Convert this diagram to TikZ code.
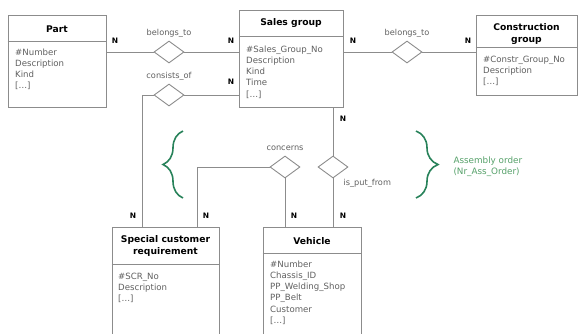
\documentclass[tikz,border=0pt]{standalone}
\usepackage{fontspec}
\setmainfont{DejaVu Sans}
\usetikzlibrary{shapes.geometric,decorations.pathreplacing}
\definecolor{linegray}{RGB}{140,140,140}
\definecolor{attrgray}{RGB}{95,95,95}
\definecolor{bracegreen}{RGB}{40,130,90}
\definecolor{notegreen}{RGB}{85,160,105}
\tikzset{
  entity/.style={draw=linegray, line width=0.9pt, rectangle, inner sep=0pt},
  title/.style={font=\fontsize{9.2}{11.5}\selectfont\bfseries, align=center},
  attrs/.style={font=\fontsize{8.6}{11.2}\selectfont, text=attrgray, align=left, anchor=north west, inner sep=0pt},
  rel/.style={draw=linegray, line width=0.9pt, diamond, inner sep=0pt, minimum width=30pt, minimum height=22pt},
  rellabel/.style={font=\fontsize{8.2}{10}\selectfont, text=attrgray},
  card/.style={font=\fontsize{7.5}{9}\selectfont\bfseries},
  conn/.style={draw=linegray, line width=0.9pt},
}
\begin{document}
\begin{tikzpicture}[x=1pt, y=-1pt]
\useasboundingbox (0,0) rectangle (583,333);
\clip (0,0) rectangle (583,333);
% entities
\node[entity, minimum width=98pt, minimum height=92pt] (part) at (57,61) {};
\node[entity, minimum width=104pt, minimum height=97pt] (sales) at (291,58.5) {};
\node[entity, minimum width=101pt, minimum height=80pt] (constr) at (526.5,55) {};
\node[entity, minimum width=107pt, minimum height=130pt] (scr) at (165.5,292) {};
\node[entity, minimum width=98pt, minimum height=130pt] (vehicle) at (312,292) {};
% header lines
\draw[conn] (part.west |- 0,41) -- (part.east |- 0,41);
\draw[conn] (sales.west |- 0,36) -- (sales.east |- 0,36);
\draw[conn] (constr.west |- 0,47) -- (constr.east |- 0,47);
\draw[conn] (scr.west |- 0,264) -- (scr.east |- 0,264);
\draw[conn] (vehicle.west |- 0,253) -- (vehicle.east |- 0,253);
% titles
\node[title] (partT) at (57,29) {Part};
\node[title] (salesT) at (291,23) {Sales group};
\node[title] (constrT) at (526.5,34) {Construction\\group};
\node[title] (scrT) at (165.5,246) {Special customer\\requirement};
\node[title] (vehicleT) at (312,241) {Vehicle};
% attributes
\node[attrs] (partA) at (15,48.5) {\#Number\\Description\\Kind\\{[\dots]}};
\node[attrs] (salesA) at (246,45.5) {\#Sales\_Group\_No\\Description\\Kind\\Time\\{[\dots]}};
\node[attrs] (constrA) at (483,55.5) {\#Constr\_Group\_No\\Description\\{[\dots]}};
\node[attrs] (scrA) at (118,272.5) {\#SCR\_No\\Description\\{[\dots]}};
\node[attrs] (vehicleA) at (270,260.5) {\#Number\\Chassis\_ID\\PP\_Welding\_Shop\\PP\_Belt\\Customer\\{[\dots]}};
% relationships
\node[rel] (bt1) at (169,52) {};
\node[rel] (cons) at (169,95) {};
\node[rel] (bt2) at (407,52) {};
\node[rel] (conc) at (285,167) {};
\node[rel] (ipf) at (333,167) {};
\node[rellabel] (bt1L) at (169,33) {belongs\_to};
\node[rellabel] (consL) at (169,76) {consists\_of};
\node[rellabel] (bt2L) at (407,33) {belongs\_to};
\node[rellabel] (concL) at (285,148) {concerns};
\node[rellabel, anchor=west] (ipfL) at (340,183) {is\_put\_from};
\coordinate (scrLeft) at (142,227);
\coordinate (scrRight) at (197,227);
% connectors
\draw[conn] (part.east |- bt1) -- (bt1);
\draw[conn] (bt1) -- (sales.west |- bt1);
\draw[conn] (cons) -- (sales.west |- cons);
\draw[conn] (cons) -| (scrLeft);
\draw[conn] (sales.east |- bt2) -- (bt2);
\draw[conn] (bt2) -- (constr.west |- bt2);
\draw[conn] (sales.south -| ipf) -- (ipf);
\draw[conn] (ipf) -- (vehicle.north -| ipf);
\draw[conn] (conc) -| (scrRight);
\draw[conn] (conc) -- (vehicle.north -| conc);
% cardinalities
\node[card] (n1) at (115,41) {N};
\node[card] (n2) at (231,41) {N};
\node[card] (n3) at (231,82) {N};
\node[card] (n4) at (353,41) {N};
\node[card] (n5) at (468,41) {N};
\node[card] (n6) at (343,119) {N};
\node[card] (n7) at (133,216) {N};
\node[card] (n8) at (206,216) {N};
\node[card] (n9) at (294,216) {N};
\node[card] (n10) at (343,216) {N};
% braces
\draw[bracegreen, line width=1.6pt, decorate, decoration={brace, amplitude=20pt, aspect=0.5}]
  (183,198) -- (183,131);
\draw[bracegreen, line width=1.6pt, decorate, decoration={brace, amplitude=22pt, aspect=0.5}]
  (416,131) -- (416,198);
\node[font=\fontsize{8.8}{11}\selectfont, text=notegreen, align=left, anchor=west] (note) at (450,167)
  {Assembly order\\(Nr\_Ass\_Order)};
\end{tikzpicture}
\end{document}
